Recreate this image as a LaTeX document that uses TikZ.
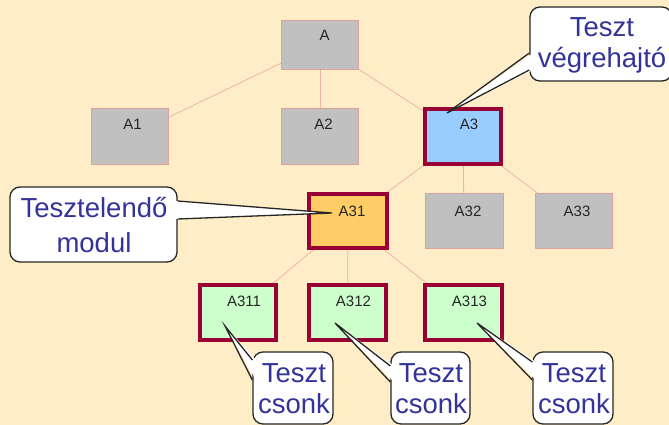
\documentclass[tikz,border=0pt]{standalone}
\usepackage{fontspec}
\setmainfont{Liberation Sans}
\definecolor{bg}{HTML}{FEEDC6}
\definecolor{conn}{HTML}{EDB5A5}
\definecolor{grayfill}{HTML}{C0C0C0}
\definecolor{grayline}{HTML}{E0A0A0}
\definecolor{darkred}{HTML}{990033}
\definecolor{bluefill}{HTML}{99CCFF}
\definecolor{orangefill}{HTML}{FFCC66}
\definecolor{greenfill}{HTML}{CCFFCC}
\definecolor{calltext}{HTML}{333399}
\tikzset{
  graybox/.style={draw=grayline, line width=0.8pt, fill=grayfill, minimum width=77pt, minimum height=56pt, inner sep=0pt},
  hibox/.style={draw=darkred, line width=3.6pt, minimum width=77pt, minimum height=55pt, inner sep=0pt},
  lbl/.style={anchor=base, font=\fontsize{15}{18}\selectfont, text=black!85, inner sep=0pt},
  conline/.style={draw=conn, line width=0.8pt},
  callbox/.style={draw=black!85, line width=1.3pt, fill=white, rounded corners=10pt, inner sep=0pt},
  callwedge/.style={draw=black!85, line width=1.3pt, line join=miter},
  ctext/.style={anchor=base, font=\fontsize{27.5}{31}\selectfont, text=calltext, inner sep=0pt}
}
\begin{document}
\begin{tikzpicture}[x=1pt,y=-1pt]
\fill[bg] (0,0) rectangle (669,425);
\useasboundingbox (0,0) rectangle (669,425);
\clip (0,0) rectangle (669,425);
% box centres
\coordinate (cA) at (320,44.5);
\coordinate (cA1) at (129.5,136);
\coordinate (cA2) at (320,136);
\coordinate (cA3) at (463,136.5);
\coordinate (cA31) at (348,221);
\coordinate (cA32) at (464,220.5);
\coordinate (cA33) at (573.5,220.5);
\coordinate (cA311) at (238,312.5);
\coordinate (cA312) at (347.5,312.5);
\coordinate (cA313) at (463.5,312.5);
% connectors
\draw[conline] (cA) -- (cA1);
\draw[conline] (cA) -- (cA2);
\draw[conline] (cA) -- (cA3);
\draw[conline] (cA3) -- (cA31);
\draw[conline] (cA3) -- (cA32);
\draw[conline] (cA3) -- (cA33);
\draw[conline] (cA31) -- (cA311);
\draw[conline] (cA31) -- (cA312);
\draw[conline] (cA31) -- (cA313);
% boxes
\node[graybox, minimum height=49pt] (A) at (cA) {};
\node[graybox] (A1) at (cA1) {};
\node[graybox] (A2) at (cA2) {};
\node[hibox, fill=bluefill, minimum width=76pt] (A3) at (cA3) {};
\node[hibox, fill=orangefill, minimum width=78pt, minimum height=54pt] (A31) at (cA31) {};
\node[graybox, minimum width=78pt, minimum height=55pt] (A32) at (cA32) {};
\node[graybox, minimum width=77pt, minimum height=55pt] (A33) at (cA33) {};
\node[hibox, fill=greenfill, minimum width=76pt] (A311) at (cA311) {};
\node[hibox, fill=greenfill] (A312) at (cA312) {};
\node[hibox, fill=greenfill] (A313) at (cA313) {};
% labels
\node[lbl] (lA) at (324.5,41) {A};
\node[lbl] (lA1) at (132.5,129) {A1};
\node[lbl] (lA2) at (323.5,129) {A2};
\node[lbl] (lA3) at (469,130) {A3};
\node[lbl] (lA31) at (352,216) {A31};
\node[lbl] (lA32) at (468,216) {A32};
\node[lbl] (lA33) at (577,216) {A33};
\node[lbl] (lA311) at (244,306) {A311};
\node[lbl] (lA312) at (353.5,306) {A312};
\node[lbl] (lA313) at (469.5,306) {A313};
% callout: Teszt végrehajtó
\node[callbox, minimum width=142pt, minimum height=74pt] (c1) at (601,44) {};
\coordinate (t1) at (447,113);
\fill[white] (533,53) -- (t1) -- (533,70) -- cycle;
\draw[callwedge] (c1.west |- 0,53) -- (t1) -- (c1.west |- 0,70);
\node[ctext] (c1a) at (602,37) {Teszt};
\node[ctext] (c1b) at (602,68) {végrehajtó};
% callout: Tesztelendő modul
\node[callbox, minimum width=167pt, minimum height=75pt] (c2) at (93.5,224.5) {};
\coordinate (t2) at (332,213);
\fill[white] (174,201) -- (t2) -- (174,219) -- cycle;
\draw[callwedge] (c2.east |- 0,201) -- (t2) -- (c2.east |- 0,219);
\node[ctext] (c2a) at (94,217) {Tesztelendő};
\node[ctext] (c2b) at (94,252) {modul};
% callouts: Teszt csonk
\node[callbox, minimum width=80pt, minimum height=72pt] (c3) at (293,388) {};
\coordinate (t3) at (225,326);
\fill[white] (256,360) -- (t3) -- (256,380) -- cycle;
\draw[callwedge] (c3.west |- 0,360) -- (t3) -- (c3.west |- 0,380);
\node[ctext] (c3a) at (294,382) {Teszt};
\node[ctext] (c3b) at (294,413) {csonk};
\node[callbox, minimum width=79pt, minimum height=72pt] (c4) at (430.5,388) {};
\coordinate (t4) at (335,323);
\fill[white] (394,366) -- (t4) -- (394,382) -- cycle;
\draw[callwedge] (c4.west |- 0,366) -- (t4) -- (c4.west |- 0,382);
\node[ctext] (c4a) at (431,382) {Teszt};
\node[ctext] (c4b) at (431,413) {csonk};
\node[callbox, minimum width=80pt, minimum height=72pt] (c5) at (573,388) {};
\coordinate (t5) at (477,323);
\fill[white] (536,362) -- (t5) -- (536,380) -- cycle;
\draw[callwedge] (c5.west |- 0,362) -- (t5) -- (c5.west |- 0,380);
\node[ctext] (c5a) at (574,382) {Teszt};
\node[ctext] (c5b) at (574,413) {csonk};
\end{tikzpicture}
\end{document}
